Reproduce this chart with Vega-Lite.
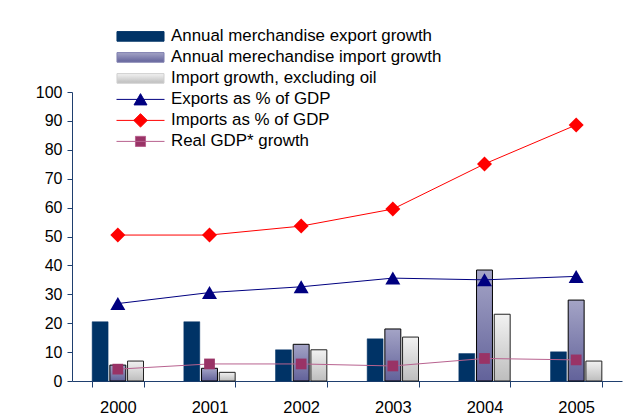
{
  "$schema": "https://vega.github.io/schema/vega-lite/v6.json",
  "width": 550,
  "height": 289,
  "autosize": {"type": "none"},
  "padding": {"left": 72, "top": 92, "right": 13, "bottom": 38},
  "background": "white",
  "config": {
    "font": "Liberation Sans",
    "view": {"stroke": null}
  },
  "data": {
    "values": [
      {"year": "2000", "series": "Annual merchandise export growth", "value": 20.5},
      {"year": "2001", "series": "Annual merchandise export growth", "value": 20.5},
      {"year": "2002", "series": "Annual merchandise export growth", "value": 10.8},
      {"year": "2003", "series": "Annual merchandise export growth", "value": 14.6},
      {"year": "2004", "series": "Annual merchandise export growth", "value": 9.5},
      {"year": "2005", "series": "Annual merchandise export growth", "value": 10.1},
      {"year": "2000", "series": "Annual merechandise import growth", "value": 5.5},
      {"year": "2001", "series": "Annual merechandise import growth", "value": 4.4},
      {"year": "2002", "series": "Annual merechandise import growth", "value": 12.7},
      {"year": "2003", "series": "Annual merechandise import growth", "value": 18.0},
      {"year": "2004", "series": "Annual merechandise import growth", "value": 38.4},
      {"year": "2005", "series": "Annual merechandise import growth", "value": 28.0},
      {"year": "2000", "series": "Import growth, excluding oil", "value": 6.9},
      {"year": "2001", "series": "Import growth, excluding oil", "value": 3.0},
      {"year": "2002", "series": "Import growth, excluding oil", "value": 10.8},
      {"year": "2003", "series": "Import growth, excluding oil", "value": 15.2},
      {"year": "2004", "series": "Import growth, excluding oil", "value": 23.1},
      {"year": "2005", "series": "Import growth, excluding oil", "value": 6.9},
      {"year": "2000", "series": "Exports as % of GDP", "value": 26.8},
      {"year": "2001", "series": "Exports as % of GDP", "value": 30.6},
      {"year": "2002", "series": "Exports as % of GDP", "value": 32.6},
      {"year": "2003", "series": "Exports as % of GDP", "value": 35.6},
      {"year": "2004", "series": "Exports as % of GDP", "value": 35.0},
      {"year": "2005", "series": "Exports as % of GDP", "value": 36.2},
      {"year": "2000", "series": "Imports as % of GDP", "value": 50.5},
      {"year": "2001", "series": "Imports as % of GDP", "value": 50.5},
      {"year": "2002", "series": "Imports as % of GDP", "value": 53.6},
      {"year": "2003", "series": "Imports as % of GDP", "value": 59.5},
      {"year": "2004", "series": "Imports as % of GDP", "value": 75.1},
      {"year": "2005", "series": "Imports as % of GDP", "value": 88.6},
      {"year": "2000", "series": "Real GDP* growth", "value": 4.1},
      {"year": "2001", "series": "Real GDP* growth", "value": 5.9},
      {"year": "2002", "series": "Real GDP* growth", "value": 5.9},
      {"year": "2003", "series": "Real GDP* growth", "value": 5.2},
      {"year": "2004", "series": "Real GDP* growth", "value": 7.8},
      {"year": "2005", "series": "Real GDP* growth", "value": 7.3}
    ]
  },
  "encoding": {
    "x": {
      "field": "year",
      "type": "ordinal",
      "scale": {"type": "band", "paddingInner": 0.44, "paddingOuter": 0.22},
      "axis": {
        "title": null,
        "labelAngle": 0,
        "labelFontSize": 16.5,
        "labelColor": "#000000",
        "labelPadding": 12,
        "tickBand": "extent",
        "tickSize": 6,
        "tickColor": "#1f3f6f",
        "domainColor": "#1f3f6f",
        "grid": false
      }
    },
    "y": {
      "field": "value",
      "type": "quantitative",
      "scale": {"domain": [0, 100], "nice": false},
      "axis": {
        "title": null,
        "values": [0, 10, 20, 30, 40, 50, 60, 70, 80, 90, 100],
        "labelFontSize": 16,
        "labelColor": "#000000",
        "labelPadding": 5,
        "tickSize": 5,
        "tickColor": "#1f3f6f",
        "domainColor": "#1f3f6f",
        "grid": false
      }
    }
  },
  "layer": [
    {
      "transform": [{"filter": "datum.series === 'Annual merchandise export growth'"}],
      "mark": {"type": "bar", "fill": "#003366", "stroke": "#003366", "strokeWidth": 0.5},
      "encoding": {
        "xOffset": {"field": "series", "type": "nominal", "scale": {"domain": ["Annual merchandise export growth", "Annual merechandise import growth", "Import growth, excluding oil"], "paddingInner": 0.1}}
      }
    },
    {
      "transform": [{"filter": "datum.series === 'Annual merechandise import growth'"}],
      "mark": {
        "type": "bar",
        "fill": {"gradient": "linear", "x1": 0, "y1": 0, "x2": 0, "y2": 1, "stops": [{"offset": 0, "color": "#a4a4c6"}, {"offset": 1, "color": "#62629a"}]},
        "stroke": "#000000",
        "strokeWidth": 1
      },
      "encoding": {
        "xOffset": {"field": "series", "type": "nominal"}
      }
    },
    {
      "transform": [{"filter": "datum.series === 'Import growth, excluding oil'"}],
      "mark": {
        "type": "bar",
        "fill": {"gradient": "linear", "x1": 0, "y1": 0, "x2": 0, "y2": 1, "stops": [{"offset": 0, "color": "#f2f2f2"}, {"offset": 1, "color": "#bdbdbd"}]},
        "stroke": "#222222",
        "strokeWidth": 1
      },
      "encoding": {
        "xOffset": {"field": "series", "type": "nominal"}
      }
    },
    {
      "transform": [{"filter": "datum.series === 'Exports as % of GDP' || datum.series === 'Imports as % of GDP' || datum.series === 'Real GDP* growth'"}],
      "mark": {"type": "line", "strokeWidth": 1},
      "encoding": {
        "color": {
          "field": "series",
          "type": "nominal",
          "scale": {
            "domain": ["Annual merchandise export growth", "Annual merechandise import growth", "Import growth, excluding oil", "Exports as % of GDP", "Imports as % of GDP", "Real GDP* growth"],
            "range": ["#003366", "#8080b0", "#d0d0d0", "#000080", "#ff0000", "#b8628f"]
          },
          "legend": {
            "orient": "none",
            "legendX": 44,
            "legendY": -66,
            "title": null,
            "padding": 0,
            "rowPadding": 0,
            "clipHeight": 20.8,
            "symbolSize": 2304,
            "labelOffset": 6,
            "labelFontSize": 16.9,
            "labelColor": "#000000",
            "labelLimit": 400,
            "encode": {
              "symbols": {
                "update": {
                  "shape": [
                    {"test": "datum.value === 'Exports as % of GDP'", "value": "M-1,0H1M-0.27,0.23L0,-0.24L0.27,0.23Z"},
                    {"test": "datum.value === 'Imports as % of GDP'", "value": "M-1,0H1M0,-0.28L0.28,0L0,0.28L-0.28,0Z"},
                    {"test": "datum.value === 'Real GDP* growth'", "value": "M-1,0H1M-0.21,-0.21H0.21V0.21H-0.21Z"},
                    {"value": "M-0.98,-0.2H0.98V0.2H-0.98Z"}
                  ],
                  "fill": [
                    {"test": "datum.value === 'Annual merchandise export growth'", "value": "#003366"},
                    {"test": "datum.value === 'Annual merechandise import growth'", "value": {"gradient": "linear", "x1": 0, "y1": 0, "x2": 0, "y2": 1, "stops": [{"offset": 0, "color": "#a4a4c6"}, {"offset": 1, "color": "#62629a"}]}},
                    {"test": "datum.value === 'Import growth, excluding oil'", "value": {"gradient": "linear", "x1": 0, "y1": 0, "x2": 0, "y2": 1, "stops": [{"offset": 0, "color": "#f2f2f2"}, {"offset": 1, "color": "#bdbdbd"}]}},
                    {"test": "datum.value === 'Exports as % of GDP'", "value": "#000080"},
                    {"test": "datum.value === 'Imports as % of GDP'", "value": "#ff0000"},
                    {"value": "#993366"}
                  ],
                  "stroke": [
                    {"test": "datum.value === 'Annual merchandise export growth'", "value": "#003366"},
                    {"test": "datum.value === 'Annual merechandise import growth'", "value": "#000000"},
                    {"test": "datum.value === 'Import growth, excluding oil'", "value": "#222222"},
                    {"test": "datum.value === 'Exports as % of GDP'", "value": "#000080"},
                    {"test": "datum.value === 'Imports as % of GDP'", "value": "#ff0000"},
                    {"value": "#b8628f"}
                  ],
                  "strokeWidth": {"value": 1},
                  "opacity": {"value": 1},
                  "fillOpacity": {"value": 1},
                  "strokeOpacity": {"value": 1}
                }
              }
            }
          }
        }
      }
    },
    {
      "transform": [{"filter": "datum.series === 'Exports as % of GDP'"}],
      "mark": {"type": "point", "shape": "triangle-up", "filled": true, "fill": "#000080", "size": 225, "opacity": 1}
    },
    {
      "transform": [{"filter": "datum.series === 'Imports as % of GDP'"}],
      "mark": {"type": "point", "shape": "diamond", "filled": true, "fill": "#ff0000", "size": 225, "opacity": 1}
    },
    {
      "transform": [{"filter": "datum.series === 'Real GDP* growth'"}],
      "mark": {"type": "point", "shape": "square", "filled": true, "fill": "#993366", "size": 115, "opacity": 1}
    }
  ]
}
